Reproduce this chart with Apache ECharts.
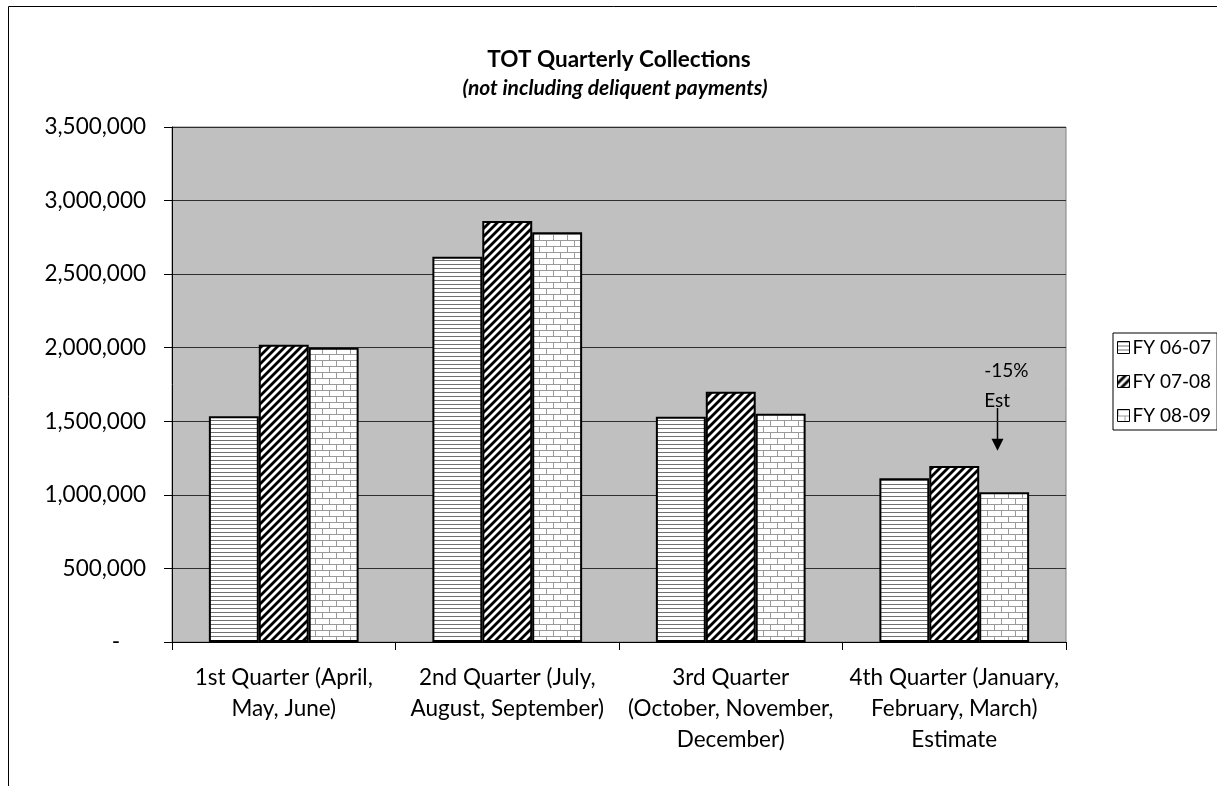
<!DOCTYPE html>
<html>
<head>
<meta charset="utf-8">
<script src="https://cdn.jsdelivr.net/npm/echarts@6/dist/echarts.min.js"></script>
<style>
  html, body { margin: 0; padding: 0; background: #fff; }
  #chart { width: 1217px; height: 786px; }
</style>
</head>
<body>
<div id="chart"></div>
<script>
// 数据
const quarters = [
    '1st Quarter (April,\nMay, June)',
    '2nd Quarter (July,\nAugust, September)',
    '3rd Quarter\n(October, November,\nDecember)',
    '4th Quarter (January,\nFebruary, March)\nEstimate'
];
const seriesNames = ['FY 06-07', 'FY 07-08', 'FY 08-09'];
const fy0607 = [1534000, 2619000, 1531000, 1113000];
const fy0708 = [2020000, 2861000, 1701000, 1196000];
const fy0809 = [2000000, 2784000, 1552000, 1017000];
const noteLines = ['-15%', 'Est'];
const noteFrom = 1590000;
const noteTo = 1300000;

const FONT = 'Lato, Carlito, "Open Sans", sans-serif';

// 填充图案
const makePattern = (w, h, draw) => {
    const c = document.createElement('canvas');
    c.width = w; c.height = h;
    const ctx = c.getContext('2d');
    ctx.fillStyle = '#fff';
    ctx.fillRect(0, 0, w, h);
    draw(ctx);
    return { image: c, repeat: 'repeat' };
};

const hLines = makePattern(4, 4, ctx => {
    ctx.fillStyle = '#707070';
    ctx.fillRect(0, 0, 4, 1);
});

const diag = makePattern(8, 8, ctx => {
    ctx.strokeStyle = '#000';
    ctx.lineWidth = 2.8;
    [-8, 0, 8].forEach(dx => {
        ctx.beginPath();
        ctx.moveTo(dx - 1, 9);
        ctx.lineTo(dx + 9, -1);
        ctx.stroke();
    });
});

const brick = makePattern(14, 12, ctx => {
    ctx.fillStyle = '#9a9a9a';
    ctx.fillRect(0, 0, 14, 1);
    ctx.fillRect(0, 6, 14, 1);
    ctx.fillRect(0, 0, 1, 6);
    ctx.fillRect(7, 6, 1, 6);
});

const patterns = [hLines, diag, brick];
const dataSets = [fy0607, fy0708, fy0809];

const fmt = v => v === 0 ? '{z|-}' : v.toLocaleString('en-US');

const myChart = echarts.init(document.getElementById('chart'));

const option = {
    backgroundColor: '#fff',
    animation: false,
    textStyle: { fontFamily: FONT },
    grid: {
        left: 172, right: 151, top: 127, bottom: 144,
        show: true,
        backgroundColor: '#c0c0c0',
        borderColor: '#808080',
        borderWidth: 1
    },
    legend: {
        orient: 'vertical',
        left: 1113,
        top: 333,
        data: seriesNames,
        icon: 'rect',
        itemWidth: 12,
        itemHeight: 12,
        itemGap: 15,
        padding: [5, 6, 5, 4],
        backgroundColor: '#fff',
        borderColor: '#000',
        borderWidth: 1,
        borderRadius: 0,
        itemStyle: { borderColor: '#000', borderWidth: 1 },
        textStyle: { fontFamily: FONT, fontSize: 19, color: '#000', padding: [0, 0, 0, -2] }
    },
    xAxis: {
        type: 'category',
        data: quarters,
        axisLine: { show: true, lineStyle: { color: '#000', width: 1 } },
        axisTick: { show: true, length: 8, lineStyle: { color: '#000' } },
        axisLabel: {
            color: '#000',
            fontSize: 22.5,
            lineHeight: 31,
            margin: 20,
            interval: 0,
            align: 'center'
        }
    },
    yAxis: {
        type: 'value',
        min: 0,
        max: 3500000,
        interval: 500000,
        axisLine: { show: true, lineStyle: { color: '#000', width: 1 } },
        axisTick: { show: true, length: 8, lineStyle: { color: '#000' } },
        splitLine: { show: true, lineStyle: { color: '#2e2e2e', width: 1 } },
        axisLabel: {
            color: '#000',
            fontSize: 22.5,
            margin: 26,
            formatter: fmt,
            rich: { z: { fontSize: 22.5, color: '#000', padding: [0, 26, 0, 0] } }
        }
    },
    series: seriesNames.map((name, i) => ({
        name: name,
        type: 'bar',
        data: dataSets[i],
        barGap: '0%',
        barCategoryGap: '33%',
        itemStyle: {
            color: patterns[i],
            borderColor: '#000',
            borderWidth: 2
        }
    })),
    graphic: [
        {
            type: 'rect',
            shape: { x: 8.5, y: 6.5, width: 1300, height: 900 },
            style: { fill: 'none', stroke: '#000', lineWidth: 1 },
            z: -10
        },
        {
            type: 'text',
            x: 619, y: 60,
            style: {
                text: 'TOT Quarterly Collections',
                font: 'bold 22.5px ' + FONT,
                fill: '#000',
                align: 'center',
                verticalAlign: 'middle'
            }
        },
        {
            type: 'text',
            x: 615, y: 88,
            style: {
                text: '(not including deliquent payments)',
                font: 'italic bold 21px ' + FONT,
                fill: '#000',
                align: 'center',
                verticalAlign: 'middle'
            }
        }
    ]
};

myChart.setOption(option);

// 注释：箭头和文字放在第三个系列最后一根柱子上方
const barLayout = myChart.getModel().getSeriesByIndex(2).getData().getItemLayout(3);
const arrowX = Math.round(barLayout.x + barLayout.width / 2) - 6.5;
const yFrom = myChart.convertToPixel({ yAxisIndex: 0 }, noteFrom);
const yTo = myChart.convertToPixel({ yAxisIndex: 0 }, noteTo);
myChart.setOption({
    graphic: option.graphic.concat([
        {
            type: 'text',
            x: barLayout.x + 5,
            y: yFrom + 8,
            style: {
                text: noteLines.join('\n'),
                font: '19px ' + FONT,
                lineHeight: 30,
                fill: '#000',
                align: 'left',
                verticalAlign: 'bottom'
            }
        },
        {
            type: 'line',
            shape: { x1: arrowX, y1: yFrom, x2: arrowX, y2: yTo - 10 },
            style: { stroke: '#000', lineWidth: 1.5 }
        },
        {
            type: 'polygon',
            shape: { points: [[arrowX - 6, yTo - 12], [arrowX + 6, yTo - 12], [arrowX, yTo]] },
            style: { fill: '#000' }
        }
    ])
});
</script>
</body>
</html>
